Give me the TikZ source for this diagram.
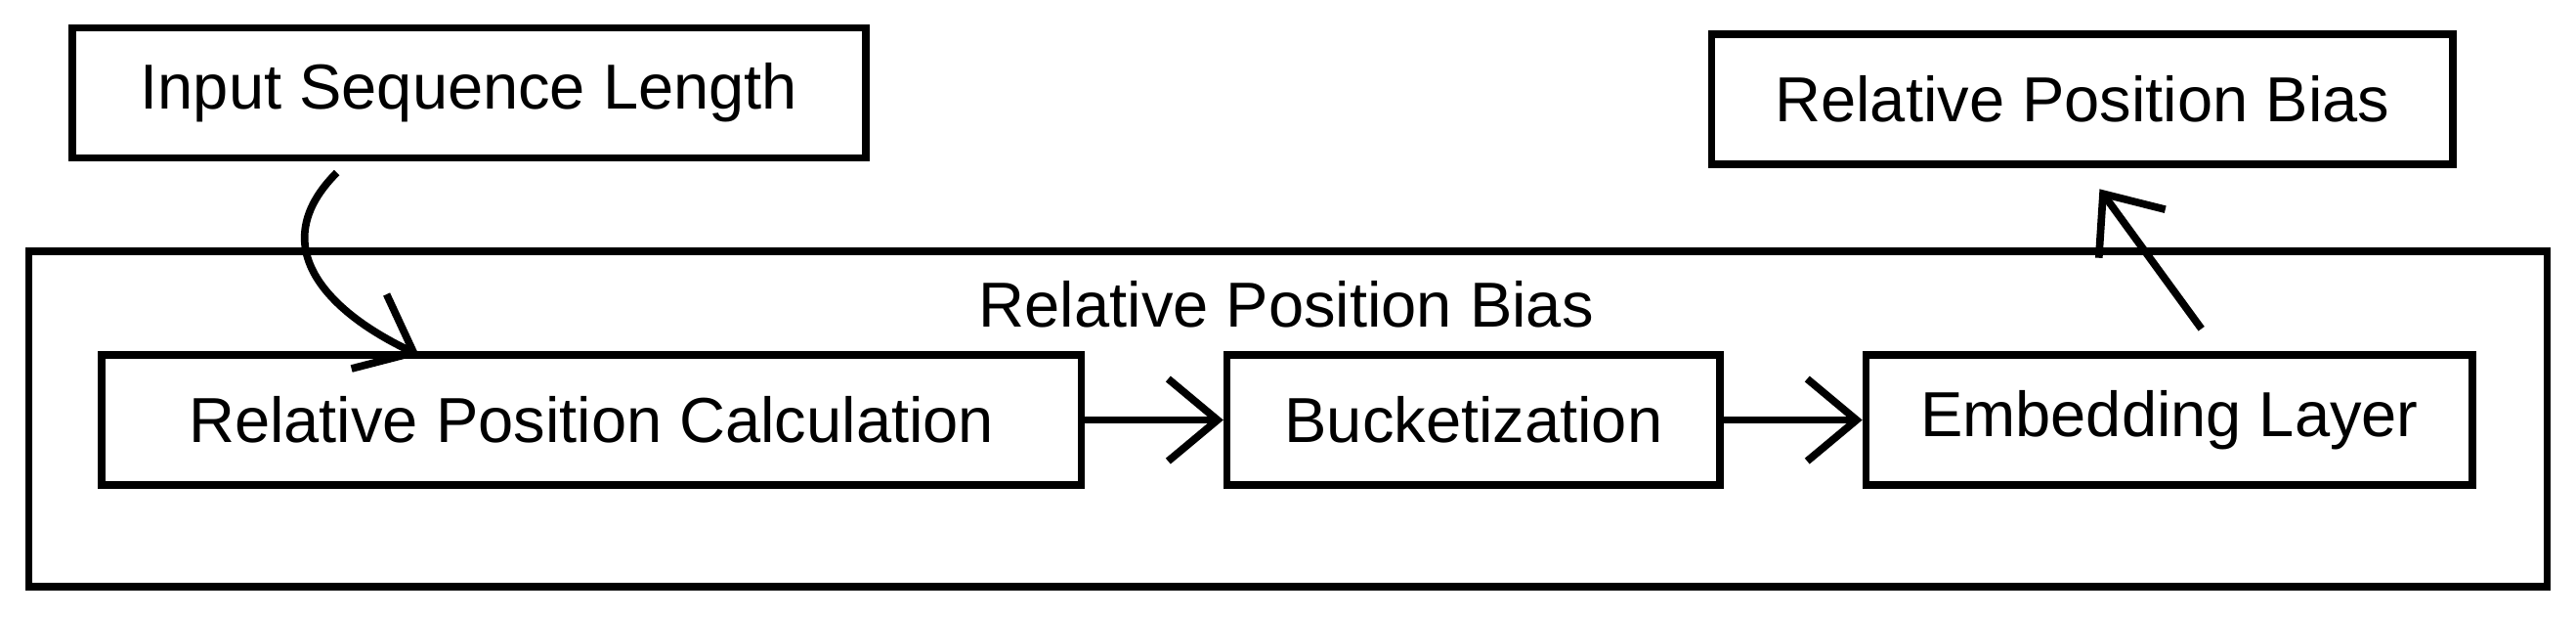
\documentclass[tikz,border=0pt]{standalone}
\usepackage{fontspec}
\setmainfont{Liberation Sans}
\usetikzlibrary{positioning}
\usetikzlibrary{arrows.meta}

\begin{document}
\begin{tikzpicture}[x=0.01cm, y=-0.01cm,
    box/.style={draw, line width=1.3pt, inner sep=0pt, font=\fontsize{11}{14}\selectfont},
    flow/.style={draw, line width=1.3pt, -{Straight Barb[length=3mm, width=5mm]}}]
			\useasboundingbox (0,0) rectangle (1568,375);

			\node[box, minimum width=4.83cm, minimum height=0.79cm] (input) at (285.5,56.5) {Input Sequence Length};
			\node[box, minimum width=4.51cm, minimum height=0.79cm] (bias) at (1267.5,60.5) {Relative Position Bias};

			\node[box, minimum width=15.32cm, minimum height=2.04cm] (outer) at (784,255) {};
			\node[font=\fontsize{11}{14}\selectfont] (outerlabel) at (783,185) {Relative Position Bias};

			\node[box, minimum width=5.96cm, minimum height=0.79cm] (calc) at (360,255.5) {Relative Position Calculation};
			\node[box, minimum width=3.00cm, minimum height=0.79cm] (bucket) at (897,255.5) {Bucketization};
			\node[box, minimum width=3.69cm, minimum height=0.79cm] (embed) at (1320.5,255.5) {Embedding Layer};

			\coordinate (start) at (205,105);
			\coordinate (head) at (1278,115);
			\coordinate (tail) at (1340,200);

			\path[flow] (start) .. controls (160,150) and (200,190) .. (255,216);
			\path[flow] (calc) -- (bucket);
			\path[flow] (bucket) -- (embed);
			\path[flow] (tail) -- (head);
        \end{tikzpicture}
\end{document}
